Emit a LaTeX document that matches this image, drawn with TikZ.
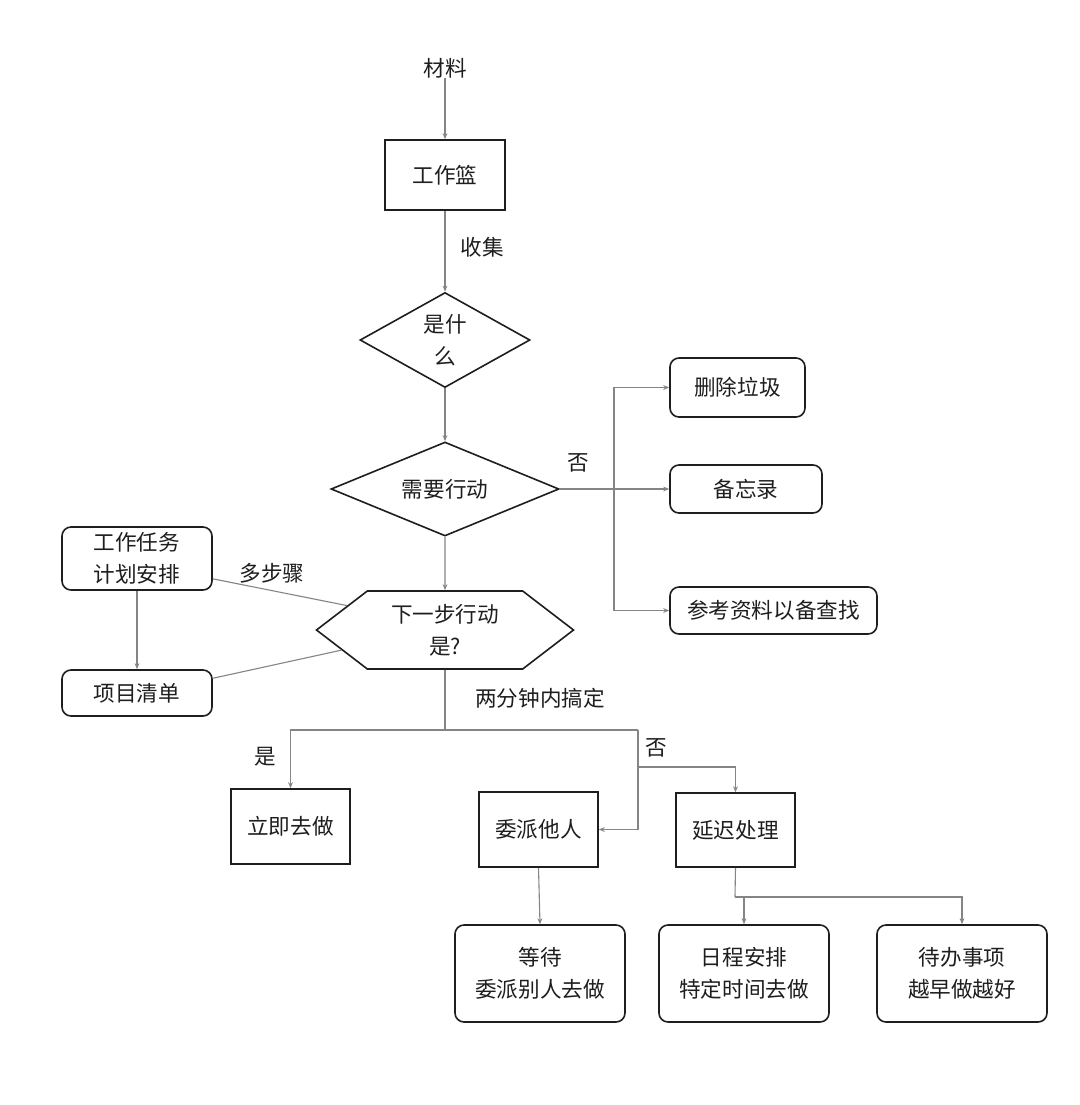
\documentclass[tikz,border=0pt]{standalone}
\usepackage{fontspec}
\setmainfont{Noto Sans CJK SC}
\usetikzlibrary{arrows.meta,shapes.geometric,shapes.symbols}
\definecolor{LineGray}{HTML}{858585}
\definecolor{InkBlack}{HTML}{1E1E1E}

\begin{document}
\begin{tikzpicture}[
  x=0.5pt, y=-0.5pt,
  every node/.style = {font=\fontsize{10.8pt}{16pt}\selectfont, align=center, inner sep=0pt, text=InkBlack},
  BoxSharp/.style = {draw=InkBlack, line width=0.8pt},
  BoxRound/.style = {draw=InkBlack, line width=0.8pt, rounded corners=4.5pt},
  Decision/.style = {draw=InkBlack, line width=0.8pt, shape=diamond, aspect=1.8},
  StepHex/.style = {draw=InkBlack, line width=0.8pt, shape=signal, signal to=west and east,
    signal pointer angle=75, minimum width=128.5pt, minimum height=39pt}
  ]
  \path[fill=white] (0,0) rectangle (1080,1105);

  \node (material) at (445,68) {材料};
  \node[BoxSharp, minimum width=60pt, minimum height=35pt] (basket) at (445,175) {工作篮};
  \node[Decision, minimum width=85pt, minimum height=47.5pt] (what) at (445,340) {是什\\么};
  \node[Decision, minimum width=114pt, minimum height=47pt] (act) at (445,489) {需要行动};

  \node[BoxRound, minimum width=67.5pt, minimum height=29.5pt] (trash) at (737.5,387.5) {删除垃圾};
  \node[BoxRound, minimum width=76pt, minimum height=24pt] (memo) at (746,489) {备忘录};
  \node[BoxRound, minimum width=103.5pt, minimum height=23.5pt] (refer) at (773.5,610.5) {参考资料以备查找};

  \node[StepHex] (next) at (445,630) {下一步行动\\是?};
  \node[BoxRound, minimum width=75pt, minimum height=31.5pt] (plan) at (137,558.5) {工作任务\\计划安排};
  \node[BoxRound, minimum width=75pt, minimum height=23pt] (list) at (137,693) {项目清单};

  \node[BoxSharp, minimum width=59.5pt, minimum height=37.5pt] (now) at (290.5,826.5) {立即去做};
  \node[BoxSharp, minimum width=59.5pt, minimum height=37.5pt] (delegate) at (538.5,829.5) {委派他人};
  \node[BoxSharp, minimum width=59.5pt, minimum height=37pt] (later) at (735.5,830) {延迟处理};

  \node[BoxRound, minimum width=85pt, minimum height=48.5pt] (wait) at (540,973.5) {等待\\委派别人去做};
  \node[BoxRound, minimum width=85pt, minimum height=48.5pt] (schedule) at (744,973.5) {日程安排\\特定时间去做};
  \node[BoxRound, minimum width=85pt, minimum height=48.5pt] (todo) at (962,973.5) {待办事项\\越早做越好};

  % labels
  \node (collect) at (482,247) {收集};
  \node (noAct) at (578,463) {否};
  \node (multi) at (272,573) {多步骤};
  \node (twoMin) at (540,698) {两分钟内搞定};
  \node (yesNow) at (265,757) {是};
  \node (noNow) at (656,748) {否};

  \tikzset{EdgeArrow/.style = {draw=LineGray, line width=0.55pt, -{Stealth[length=3pt,width=2.4pt]}}}
  \tikzset{EdgePlain/.style = {draw=LineGray, line width=0.55pt}}

  \coordinate (fork) at (614,489);
  \coordinate (split) at (445,730);
  \coordinate (splitR) at (638,730);
  \coordinate (laterFork) at (638,767);
  \coordinate (laterSplit) at (735,897);

  \draw[EdgeArrow] (material) -- (basket);
  \draw[EdgeArrow] (basket) -- (what);
  \draw[EdgeArrow] (what) -- (act);
  \draw[EdgeArrow] (act.east) -- (memo.west);
  \draw[EdgeArrow] (fork) |- (trash.west);
  \draw[EdgeArrow] (fork) |- (refer.west);
  \draw[EdgeArrow] (act) -- (next);
  \draw[EdgePlain] (plan.-15) -- (next.166);
  \draw[EdgePlain] (list.11) -- (next.191);
  \draw[EdgeArrow] (plan) -- (list);
  \draw[EdgePlain] (next) -- (split) -- (splitR);
  \draw[EdgeArrow] (split) -| (now.north);
  \draw[EdgeArrow] (splitR) |- (delegate.east);
  \draw[EdgeArrow] (laterFork) -| (later.north);
  \draw[EdgeArrow] (delegate.south) -- (wait.north);
  \draw[EdgePlain] (later.south) -- (laterSplit);
  \draw[EdgeArrow] (laterSplit) -| (todo.north);
  \draw[EdgeArrow] (laterSplit -| schedule.north) -- (schedule.north);

\end{tikzpicture}
\end{document}
